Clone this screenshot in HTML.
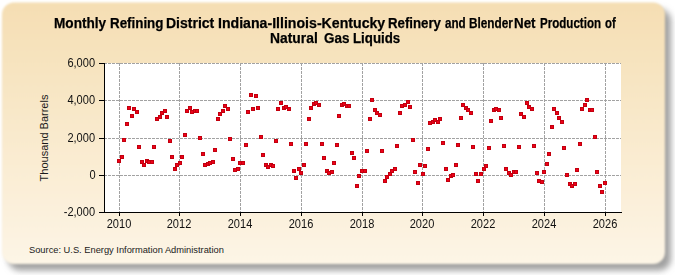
<!DOCTYPE html>
<html><head><meta charset="utf-8"><style>
html,body{margin:0;padding:0;background:#fff;width:675px;height:275px;overflow:hidden;position:relative}
svg{display:block;position:absolute;left:0;top:0}
div{position:absolute;font-family:"Liberation Sans",sans-serif;white-space:nowrap;line-height:1;color:#1a1a1a}
.tt{font-weight:bold;font-size:14px;transform-origin:0 0;color:#000;-webkit-text-stroke:0.25px #000}
.yl{font-size:12px;right:579.5px;text-align:right;transform-origin:100% 50%;transform:scaleX(0.92);color:#111}
.xl{font-size:12px;width:60px;margin-left:-30px;text-align:center;transform-origin:50% 50%;transform:scaleX(0.92);color:#111}
.yt{font-size:11px;left:44px;top:138px;transform:translate(-50%,-50%) rotate(-90deg)}
.src{font-size:9.3px;left:29px;top:245.7px}
</style></head><body>
<svg width="675" height="275" viewBox="0 0 675 275">
<defs>
<linearGradient id="bg" x1="0" y1="0" x2="0" y2="1">
<stop offset="0" stop-color="#F5DEB3"/>
<stop offset="1" stop-color="#FDF5E6"/>
</linearGradient>
<filter id="sh" x="-5%" y="-5%" width="110%" height="110%">
<feGaussianBlur stdDeviation="3"/>
</filter>
<filter id="mb" x="-2%" y="-2%" width="104%" height="104%">
<feGaussianBlur stdDeviation="0.9"/>
</filter>
</defs>
<rect x="8" y="9.0" width="663" height="261.5" rx="12" ry="12" fill="#a0a0a0" filter="url(#sh)"/>
<rect x="2" y="2.5" width="663" height="261.5" rx="12" ry="12" fill="url(#bg)" filter="url(#mb)"/>
<rect x="105" y="63" width="516" height="149" fill="#fff"/>
<g stroke="#A2A2A2" stroke-width="1" stroke-dasharray="3,1" fill="none">
<line x1="119.5" y1="63" x2="119.5" y2="212"/>
<line x1="179.5" y1="63" x2="179.5" y2="212"/>
<line x1="240.5" y1="63" x2="240.5" y2="212"/>
<line x1="301.5" y1="63" x2="301.5" y2="212"/>
<line x1="362.5" y1="63" x2="362.5" y2="212"/>
<line x1="422.5" y1="63" x2="422.5" y2="212"/>
<line x1="483.5" y1="63" x2="483.5" y2="212"/>
<line x1="544.5" y1="63" x2="544.5" y2="212"/>
<line x1="605.5" y1="63" x2="605.5" y2="212"/>
<line x1="104" y1="63.5" x2="621" y2="63.5"/>
<line x1="104" y1="100.5" x2="621" y2="100.5"/>
<line x1="104" y1="138.5" x2="621" y2="138.5"/>
<line x1="104" y1="175.5" x2="621" y2="175.5"/>
</g>
<g stroke="#000" stroke-width="1" fill="none">
<line x1="104.5" y1="63" x2="104.5" y2="213"/>
<line x1="104" y1="212.5" x2="622" y2="212.5"/>
<line x1="99" y1="63.5" x2="104" y2="63.5"/>
<line x1="99" y1="100.5" x2="104" y2="100.5"/>
<line x1="99" y1="138.5" x2="104" y2="138.5"/>
<line x1="99" y1="175.5" x2="104" y2="175.5"/>
<line x1="99" y1="212.5" x2="104" y2="212.5"/>
<line x1="119.5" y1="212" x2="119.5" y2="216"/>
<line x1="179.5" y1="212" x2="179.5" y2="216"/>
<line x1="240.5" y1="212" x2="240.5" y2="216"/>
<line x1="301.5" y1="212" x2="301.5" y2="216"/>
<line x1="362.5" y1="212" x2="362.5" y2="216"/>
<line x1="422.5" y1="212" x2="422.5" y2="216"/>
<line x1="483.5" y1="212" x2="483.5" y2="216"/>
<line x1="544.5" y1="212" x2="544.5" y2="216"/>
<line x1="605.5" y1="212" x2="605.5" y2="216"/>
</g>
<g fill="#EE0018" stroke="#C2000E" stroke-width="1">
<rect x="117.5" y="159.5" width="3" height="3"/>
<rect x="120.5" y="155.5" width="3" height="3"/>
<rect x="122.5" y="138.5" width="3" height="3"/>
<rect x="125.5" y="122.5" width="3" height="3"/>
<rect x="127.5" y="106.5" width="3" height="3"/>
<rect x="130.5" y="114.5" width="3" height="3"/>
<rect x="132.5" y="107.5" width="3" height="3"/>
<rect x="135.5" y="110.5" width="3" height="3"/>
<rect x="137.5" y="145.5" width="3" height="3"/>
<rect x="140.5" y="160.5" width="3" height="3"/>
<rect x="142.5" y="163.5" width="3" height="3"/>
<rect x="145.5" y="159.5" width="3" height="3"/>
<rect x="147.5" y="160.5" width="3" height="3"/>
<rect x="150.5" y="160.5" width="3" height="3"/>
<rect x="152.5" y="145.5" width="3" height="3"/>
<rect x="155.5" y="117.5" width="3" height="3"/>
<rect x="158.5" y="115.5" width="3" height="3"/>
<rect x="160.5" y="111.5" width="3" height="3"/>
<rect x="163.5" y="109.5" width="3" height="3"/>
<rect x="165.5" y="115.5" width="3" height="3"/>
<rect x="168.5" y="139.5" width="3" height="3"/>
<rect x="170.5" y="155.5" width="3" height="3"/>
<rect x="173.5" y="167.5" width="3" height="3"/>
<rect x="175.5" y="163.5" width="3" height="3"/>
<rect x="178.5" y="161.5" width="3" height="3"/>
<rect x="180.5" y="155.5" width="3" height="3"/>
<rect x="183.5" y="133.5" width="3" height="3"/>
<rect x="185.5" y="109.5" width="3" height="3"/>
<rect x="188.5" y="106.5" width="3" height="3"/>
<rect x="190.5" y="110.5" width="3" height="3"/>
<rect x="193.5" y="109.5" width="3" height="3"/>
<rect x="195.5" y="109.5" width="3" height="3"/>
<rect x="198.5" y="136.5" width="3" height="3"/>
<rect x="201.5" y="152.5" width="3" height="3"/>
<rect x="203.5" y="163.5" width="3" height="3"/>
<rect x="206.5" y="162.5" width="3" height="3"/>
<rect x="208.5" y="161.5" width="3" height="3"/>
<rect x="211.5" y="160.5" width="3" height="3"/>
<rect x="213.5" y="148.5" width="3" height="3"/>
<rect x="216.5" y="117.5" width="3" height="3"/>
<rect x="218.5" y="112.5" width="3" height="3"/>
<rect x="221.5" y="109.5" width="3" height="3"/>
<rect x="223.5" y="104.5" width="3" height="3"/>
<rect x="226.5" y="107.5" width="3" height="3"/>
<rect x="228.5" y="137.5" width="3" height="3"/>
<rect x="231.5" y="157.5" width="3" height="3"/>
<rect x="233.5" y="168.5" width="3" height="3"/>
<rect x="236.5" y="167.5" width="3" height="3"/>
<rect x="238.5" y="161.5" width="3" height="3"/>
<rect x="241.5" y="161.5" width="3" height="3"/>
<rect x="244.5" y="143.5" width="3" height="3"/>
<rect x="246.5" y="110.5" width="3" height="3"/>
<rect x="249.5" y="93.5" width="3" height="3"/>
<rect x="251.5" y="107.5" width="3" height="3"/>
<rect x="254.5" y="94.5" width="3" height="3"/>
<rect x="256.5" y="106.5" width="3" height="3"/>
<rect x="259.5" y="135.5" width="3" height="3"/>
<rect x="261.5" y="153.5" width="3" height="3"/>
<rect x="264.5" y="163.5" width="3" height="3"/>
<rect x="266.5" y="165.5" width="3" height="3"/>
<rect x="269.5" y="163.5" width="3" height="3"/>
<rect x="271.5" y="164.5" width="3" height="3"/>
<rect x="274.5" y="139.5" width="3" height="3"/>
<rect x="276.5" y="107.5" width="3" height="3"/>
<rect x="279.5" y="101.5" width="3" height="3"/>
<rect x="282.5" y="106.5" width="3" height="3"/>
<rect x="284.5" y="105.5" width="3" height="3"/>
<rect x="287.5" y="107.5" width="3" height="3"/>
<rect x="289.5" y="142.5" width="3" height="3"/>
<rect x="292.5" y="169.5" width="3" height="3"/>
<rect x="294.5" y="176.5" width="3" height="3"/>
<rect x="297.5" y="167.5" width="3" height="3"/>
<rect x="299.5" y="171.5" width="3" height="3"/>
<rect x="302.5" y="163.5" width="3" height="3"/>
<rect x="304.5" y="142.5" width="3" height="3"/>
<rect x="307.5" y="117.5" width="3" height="3"/>
<rect x="309.5" y="106.5" width="3" height="3"/>
<rect x="312.5" y="102.5" width="3" height="3"/>
<rect x="314.5" y="101.5" width="3" height="3"/>
<rect x="317.5" y="103.5" width="3" height="3"/>
<rect x="320.5" y="142.5" width="3" height="3"/>
<rect x="322.5" y="156.5" width="3" height="3"/>
<rect x="325.5" y="169.5" width="3" height="3"/>
<rect x="327.5" y="171.5" width="3" height="3"/>
<rect x="330.5" y="170.5" width="3" height="3"/>
<rect x="332.5" y="161.5" width="3" height="3"/>
<rect x="335.5" y="143.5" width="3" height="3"/>
<rect x="337.5" y="114.5" width="3" height="3"/>
<rect x="340.5" y="103.5" width="3" height="3"/>
<rect x="342.5" y="102.5" width="3" height="3"/>
<rect x="345.5" y="104.5" width="3" height="3"/>
<rect x="347.5" y="104.5" width="3" height="3"/>
<rect x="350.5" y="151.5" width="3" height="3"/>
<rect x="352.5" y="156.5" width="3" height="3"/>
<rect x="355.5" y="184.5" width="3" height="3"/>
<rect x="357.5" y="174.5" width="3" height="3"/>
<rect x="360.5" y="169.5" width="3" height="3"/>
<rect x="363.5" y="169.5" width="3" height="3"/>
<rect x="365.5" y="149.5" width="3" height="3"/>
<rect x="368.5" y="117.5" width="3" height="3"/>
<rect x="370.5" y="98.5" width="3" height="3"/>
<rect x="373.5" y="108.5" width="3" height="3"/>
<rect x="375.5" y="111.5" width="3" height="3"/>
<rect x="378.5" y="113.5" width="3" height="3"/>
<rect x="380.5" y="149.5" width="3" height="3"/>
<rect x="383.5" y="179.5" width="3" height="3"/>
<rect x="385.5" y="175.5" width="3" height="3"/>
<rect x="388.5" y="172.5" width="3" height="3"/>
<rect x="390.5" y="169.5" width="3" height="3"/>
<rect x="393.5" y="167.5" width="3" height="3"/>
<rect x="395.5" y="144.5" width="3" height="3"/>
<rect x="398.5" y="111.5" width="3" height="3"/>
<rect x="400.5" y="104.5" width="3" height="3"/>
<rect x="403.5" y="103.5" width="3" height="3"/>
<rect x="406.5" y="100.5" width="3" height="3"/>
<rect x="408.5" y="105.5" width="3" height="3"/>
<rect x="411.5" y="138.5" width="3" height="3"/>
<rect x="413.5" y="170.5" width="3" height="3"/>
<rect x="416.5" y="181.5" width="3" height="3"/>
<rect x="418.5" y="163.5" width="3" height="3"/>
<rect x="421.5" y="172.5" width="3" height="3"/>
<rect x="423.5" y="164.5" width="3" height="3"/>
<rect x="426.5" y="147.5" width="3" height="3"/>
<rect x="428.5" y="121.5" width="3" height="3"/>
<rect x="431.5" y="120.5" width="3" height="3"/>
<rect x="433.5" y="118.5" width="3" height="3"/>
<rect x="436.5" y="120.5" width="3" height="3"/>
<rect x="438.5" y="117.5" width="3" height="3"/>
<rect x="441.5" y="141.5" width="3" height="3"/>
<rect x="444.5" y="167.5" width="3" height="3"/>
<rect x="446.5" y="178.5" width="3" height="3"/>
<rect x="449.5" y="174.5" width="3" height="3"/>
<rect x="451.5" y="173.5" width="3" height="3"/>
<rect x="454.5" y="163.5" width="3" height="3"/>
<rect x="456.5" y="143.5" width="3" height="3"/>
<rect x="459.5" y="116.5" width="3" height="3"/>
<rect x="461.5" y="103.5" width="3" height="3"/>
<rect x="464.5" y="106.5" width="3" height="3"/>
<rect x="466.5" y="108.5" width="3" height="3"/>
<rect x="469.5" y="111.5" width="3" height="3"/>
<rect x="471.5" y="145.5" width="3" height="3"/>
<rect x="474.5" y="172.5" width="3" height="3"/>
<rect x="476.5" y="179.5" width="3" height="3"/>
<rect x="479.5" y="172.5" width="3" height="3"/>
<rect x="482.5" y="167.5" width="3" height="3"/>
<rect x="484.5" y="164.5" width="3" height="3"/>
<rect x="487.5" y="146.5" width="3" height="3"/>
<rect x="489.5" y="119.5" width="3" height="3"/>
<rect x="492.5" y="108.5" width="3" height="3"/>
<rect x="494.5" y="107.5" width="3" height="3"/>
<rect x="497.5" y="108.5" width="3" height="3"/>
<rect x="499.5" y="116.5" width="3" height="3"/>
<rect x="502.5" y="144.5" width="3" height="3"/>
<rect x="504.5" y="167.5" width="3" height="3"/>
<rect x="507.5" y="171.5" width="3" height="3"/>
<rect x="509.5" y="173.5" width="3" height="3"/>
<rect x="512.5" y="170.5" width="3" height="3"/>
<rect x="514.5" y="170.5" width="3" height="3"/>
<rect x="517.5" y="145.5" width="3" height="3"/>
<rect x="519.5" y="112.5" width="3" height="3"/>
<rect x="522.5" y="115.5" width="3" height="3"/>
<rect x="525.5" y="101.5" width="3" height="3"/>
<rect x="527.5" y="105.5" width="3" height="3"/>
<rect x="530.5" y="107.5" width="3" height="3"/>
<rect x="532.5" y="144.5" width="3" height="3"/>
<rect x="535.5" y="171.5" width="3" height="3"/>
<rect x="537.5" y="179.5" width="3" height="3"/>
<rect x="540.5" y="180.5" width="3" height="3"/>
<rect x="542.5" y="170.5" width="3" height="3"/>
<rect x="545.5" y="162.5" width="3" height="3"/>
<rect x="547.5" y="152.5" width="3" height="3"/>
<rect x="550.5" y="125.5" width="3" height="3"/>
<rect x="552.5" y="107.5" width="3" height="3"/>
<rect x="555.5" y="111.5" width="3" height="3"/>
<rect x="557.5" y="116.5" width="3" height="3"/>
<rect x="560.5" y="120.5" width="3" height="3"/>
<rect x="562.5" y="146.5" width="3" height="3"/>
<rect x="565.5" y="173.5" width="3" height="3"/>
<rect x="568.5" y="182.5" width="3" height="3"/>
<rect x="570.5" y="184.5" width="3" height="3"/>
<rect x="573.5" y="182.5" width="3" height="3"/>
<rect x="575.5" y="168.5" width="3" height="3"/>
<rect x="578.5" y="142.5" width="3" height="3"/>
<rect x="580.5" y="107.5" width="3" height="3"/>
<rect x="583.5" y="103.5" width="3" height="3"/>
<rect x="585.5" y="98.5" width="3" height="3"/>
<rect x="588.5" y="108.5" width="3" height="3"/>
<rect x="590.5" y="108.5" width="3" height="3"/>
<rect x="593.5" y="135.5" width="3" height="3"/>
<rect x="595.5" y="170.5" width="3" height="3"/>
<rect x="598.5" y="184.5" width="3" height="3"/>
<rect x="600.5" y="190.5" width="3" height="3"/>
<rect x="603.5" y="181.5" width="3" height="3"/>
</g>
</svg>
<div class="tt" style="left:53.9px;top:16px;transform:scaleX(0.9717)">Monthly</div>
<div class="tt" style="left:110.1px;top:16px;transform:scaleX(0.9537)">Refining</div>
<div class="tt" style="left:166.4px;top:16px;transform:scaleX(1.0003)">District</div>
<div class="tt" style="left:217.5px;top:16px;transform:scaleX(1.0091)">Indiana-Illinois-Kentucky</div>
<div class="tt" style="left:387.9px;top:16px;transform:scaleX(0.9457)">Refinery</div>
<div class="tt" style="left:445.2px;top:16px;transform:scaleX(0.8333)">and</div>
<div class="tt" style="left:468.9px;top:16px;transform:scaleX(0.8431)">Blender</div>
<div class="tt" style="left:514.4px;top:16px;transform:scaleX(0.9554)">Net</div>
<div class="tt" style="left:540.0px;top:16px;transform:scaleX(0.8264)">Production</div>
<div class="tt" style="left:604.9px;top:16px;transform:scaleX(0.8106)">of</div>
<div class="tt" style="left:270.0px;top:31px;transform:scaleX(0.9895)">Natural</div>
<div class="tt" style="left:323.6px;top:31px;transform:scaleX(0.961)">Gas</div>
<div class="tt" style="left:352.9px;top:31px;transform:scaleX(0.948)">Liquids</div>
<div class="yl" style="top:57px">6,000</div>
<div class="yl" style="top:94px">4,000</div>
<div class="yl" style="top:132px">2,000</div>
<div class="yl" style="top:169px">0</div>
<div class="yl" style="top:206px">-2,000</div>
<div class="xl" style="left:118.5px;top:218px">2010</div>
<div class="xl" style="left:178.5px;top:218px">2012</div>
<div class="xl" style="left:239.5px;top:218px">2014</div>
<div class="xl" style="left:300.5px;top:218px">2016</div>
<div class="xl" style="left:361.5px;top:218px">2018</div>
<div class="xl" style="left:421.5px;top:218px">2020</div>
<div class="xl" style="left:482.5px;top:218px">2022</div>
<div class="xl" style="left:543.5px;top:218px">2024</div>
<div class="xl" style="left:604.5px;top:218px">2026</div>
<div class="yt">Thousand Barrels</div>
<div class="src">Source: U.S. Energy Information Administration</div>
</body></html>
